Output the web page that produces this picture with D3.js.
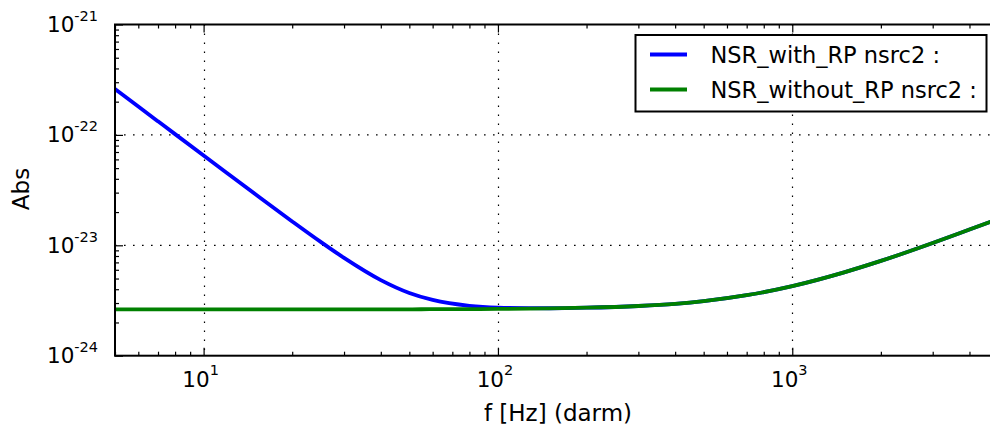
<!DOCTYPE html>
<html>
<head>
<meta charset="utf-8">
<script src="https://cdn.jsdelivr.net/npm/d3@7"></script>
<style>
  html, body { margin: 0; padding: 0; background: #fff; }
  svg { display: block; font-family: "DejaVu Sans", sans-serif; }
</style>
</head>
<body>
<svg id="chart" width="990" height="428"></svg>
<script>
// ---- data ----
const freq = [5, 6, 7, 8, 10, 12, 15, 20, 25, 30, 40, 50, 60, 80, 100, 150, 200, 300, 400, 500, 700, 1000, 1500, 2000, 3000, 4000, 5000];
const nsrWithRP = [2.60e-22, 1.806e-22, 1.327e-22, 1.016e-22, 6.505e-23, 4.522e-23, 2.901e-23, 1.646e-23, 1.073e-23, 7.69e-24, 4.84e-24, 3.70e-24, 3.20e-24, 2.83e-24, 2.73e-24, 2.69e-24, 2.72e-24, 2.82e-24, 2.95e-24, 3.12e-24, 3.53e-24, 4.27e-24, 5.69e-24, 7.22e-24, 1.05e-23, 1.39e-23, 1.73e-23];
const nsrWithoutRP = [2.63e-24, 2.63e-24, 2.63e-24, 2.63e-24, 2.63e-24, 2.63e-24, 2.63e-24, 2.63e-24, 2.63e-24, 2.63e-24, 2.63e-24, 2.63e-24, 2.64e-24, 2.64e-24, 2.65e-24, 2.68e-24, 2.72e-24, 2.82e-24, 2.95e-24, 3.12e-24, 3.53e-24, 4.27e-24, 5.69e-24, 7.22e-24, 1.05e-23, 1.39e-23, 1.73e-23];
const seriesNames = ["NSR_with_RP nsrc2 :", "NSR_without_RP nsrc2 :"];
const seriesColors = ["#0000ff", "#008000"];
const xMajorExp = [1, 2, 3];
const yMajorExp = [-21, -22, -23, -24];
const xDomain = [5, 5000];
const yDomain = [1e-24, 1e-21];
const xLabel = "f [Hz] (darm)";
const yLabel = "Abs";

// ---- layout ----
const L = 115, R = 998, T = 24.5, B = 355.7;
const svg = d3.select("#chart");
const x = d3.scaleLog().domain(xDomain).range([L, R]);
const y = d3.scaleLog().domain(yDomain).range([B, T]);

function minorTicks(domain) {
  const out = [];
  const lo = Math.floor(Math.log10(domain[0])), hi = Math.ceil(Math.log10(domain[1]));
  for (let e = lo; e <= hi; e++) for (let m = 2; m <= 9; m++) {
    const v = m * Math.pow(10, e);
    if (v >= domain[0] * 0.9999 && v <= domain[1] * 1.0001) out.push(v);
  }
  return out;
}
const xMajor = xMajorExp.map(e => Math.pow(10, e));
const yMajor = yMajorExp.map(e => Math.pow(10, e));
const xMinor = minorTicks(xDomain);
const yMinor = minorTicks(yDomain);

svg.append("defs").append("clipPath").attr("id", "clip")
  .append("rect").attr("x", L).attr("y", T).attr("width", R - L).attr("height", B - T);

// grid
const grid = svg.append("g").attr("stroke", "#000").attr("stroke-width", 1.2)
  .attr("stroke-dasharray", "1.6,7.4");
grid.selectAll(".gx").data(xMajor).join("line")
  .attr("x1", d => Math.round(x(d)) + 0.5).attr("x2", d => Math.round(x(d)) + 0.5)
  .attr("y1", T).attr("y2", B);
grid.selectAll(".gy").data(yMajor.filter(v => v > yDomain[0] && v < yDomain[1])).join("line")
  .attr("y1", d => y(d)).attr("y2", d => y(d)).attr("x1", L).attr("x2", R);

// axes ticks (inside) via d3 axes
function styleAxis(g) {
  g.select(".domain").remove();
  g.selectAll(".tick line").attr("stroke", "#000").attr("stroke-width", 1.2);
  g.selectAll("text").remove();
}
svg.append("g").attr("transform", `translate(0,${B})`)
  .call(d3.axisBottom(x).tickValues(xMajor).tickSize(-8).tickFormat("")).call(styleAxis);
svg.append("g").attr("transform", `translate(0,${B})`)
  .call(d3.axisBottom(x).tickValues(xMinor).tickSize(-4).tickFormat("")).call(styleAxis);
svg.append("g").attr("transform", `translate(0,${T})`)
  .call(d3.axisTop(x).tickValues(xMajor).tickSize(-8).tickFormat("")).call(styleAxis);
svg.append("g").attr("transform", `translate(0,${T})`)
  .call(d3.axisTop(x).tickValues(xMinor).tickSize(-4).tickFormat("")).call(styleAxis);
svg.append("g").attr("transform", `translate(${L},0)`)
  .call(d3.axisLeft(y).tickValues(yMajor).tickSize(-8).tickFormat("")).call(styleAxis);
svg.append("g").attr("transform", `translate(${L},0)`)
  .call(d3.axisLeft(y).tickValues(yMinor).tickSize(-4).tickFormat("")).call(styleAxis);
svg.append("g").attr("transform", `translate(${R},0)`)
  .call(d3.axisRight(y).tickValues(yMajor).tickSize(-8).tickFormat("")).call(styleAxis);
svg.append("g").attr("transform", `translate(${R},0)`)
  .call(d3.axisRight(y).tickValues(yMinor).tickSize(-4).tickFormat("")).call(styleAxis);

// lines
const line = d3.line().x(d => x(d[0])).y(d => y(d[1])).curve(d3.curveMonotoneX);
const series = [nsrWithRP, nsrWithoutRP];
const lines = svg.append("g").attr("clip-path", "url(#clip)");
series.forEach((vals, i) => {
  lines.append("path")
    .datum(freq.map((f, j) => [f, vals[j]]))
    .attr("d", line).attr("fill", "none")
    .attr("stroke", seriesColors[i]).attr("stroke-width", 3.8)
    .attr("stroke-linejoin", "round");
});

// frame
svg.append("rect").attr("x", L).attr("y", T).attr("width", R - L).attr("height", B - T)
  .attr("fill", "none").attr("stroke", "#000").attr("stroke-width", 2);

// tick labels
const yl = svg.append("g");
yMajorExp.forEach(e => {
  const t = yl.append("text").attr("x", 98).attr("y", y(Math.pow(10, e)) + 7.5)
    .attr("text-anchor", "end").attr("fill", "#000");
  t.append("tspan").attr("font-size", 21.5).text("10");
  t.append("tspan").attr("font-size", 14.5).attr("dy", -11).text(String(e));
});
const xl = svg.append("g");
xMajorExp.forEach(e => {
  const t = xl.append("text").attr("x", x(Math.pow(10, e)) - 3).attr("y", 387)
    .attr("text-anchor", "middle").attr("fill", "#000");
  t.append("tspan").attr("font-size", 21.5).text("10");
  t.append("tspan").attr("font-size", 14.5).attr("dy", -12).text(String(e));
});

// axis labels
svg.append("text").attr("x", 558).attr("y", 421).attr("text-anchor", "middle")
  .attr("font-size", 23).text(xLabel);
svg.append("text").attr("transform", "translate(28.5,189) rotate(-90)")
  .attr("text-anchor", "middle").attr("font-size", 23).text(yLabel);

// legend
const lg = svg.append("g");
lg.append("rect").attr("x", 635.5).attr("y", 35).attr("width", 351).attr("height", 76.5)
  .attr("fill", "#fff").attr("stroke", "#000").attr("stroke-width", 2);
seriesNames.forEach((n, i) => {
  const cy = 54.5 + i * 35;
  lg.append("line").attr("x1", 650).attr("x2", 687).attr("y1", cy).attr("y2", cy)
    .attr("stroke", seriesColors[i]).attr("stroke-width", 3.8);
  lg.append("text").attr("x", 710.5).attr("y", cy + 8.6).attr("font-size", 22.5).text(n);
});
</script>
</body>
</html>
